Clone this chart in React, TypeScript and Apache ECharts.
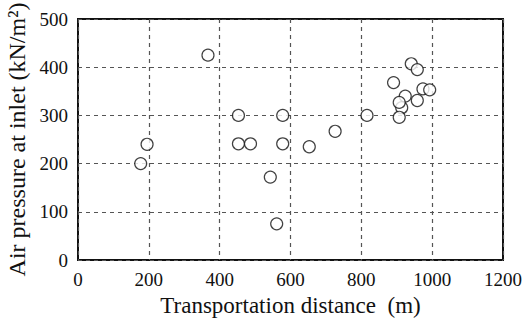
import React, { useEffect, useRef } from "react";
import * as echarts from "echarts";

const distance = [177, 195, 367, 453, 453, 487, 578, 578, 543, 561, 653, 726, 816, 891, 941, 958, 974, 993, 924, 914, 907, 907, 958];
const pressure = [200, 240, 425, 300, 241, 241, 300, 241, 172, 75, 235, 267, 300, 368, 407, 395, 355, 353, 340, 316, 327, 296, 331];
const xTicks = [0, 200, 400, 600, 800, 1000, 1200];
const yTicks = [0, 100, 200, 300, 400, 500];

export default function App() {
  const ref = useRef<HTMLDivElement>(null);
  useEffect(() => {
    if (!ref.current) return;
    const chart = echarts.init(ref.current, null, { renderer: "svg" });
    const font = "'Liberation Serif', 'DejaVu Serif', serif";
    chart.setOption({
      animation: false,
      backgroundColor: "#fff",
      grid: {
        left: 78,
        right: 26,
        top: 19,
        bottom: 62,
        outerBoundsMode: "none",
        containLabel: false,
        show: true,
        borderColor: "#111",
        borderWidth: 2,
        backgroundColor: "transparent",
      },
      xAxis: {
        type: "value",
        min: xTicks[0],
        max: xTicks[xTicks.length - 1],
        interval: 200,
        name: "Transportation distance  (m)",
        nameLocation: "middle",
        nameGap: 30,
        nameTextStyle: { fontFamily: font, fontSize: 23, color: "#111" },
        axisLine: { show: false },
        axisTick: { show: false },
        axisLabel: { fontFamily: font, fontSize: 19, color: "#111", margin: 10, formatter: (v: number) => String(v) },
        splitLine: { show: true, lineStyle: { color: "#555", type: [4, 4], width: 1.2 } },
      },
      yAxis: {
        type: "value",
        min: yTicks[0],
        max: yTicks[yTicks.length - 1],
        interval: 100,
        name: "Air pressure at inlet (kN/m\u00B2)",
        nameLocation: "middle",
        nameGap: 42,
        nameTextStyle: { fontFamily: font, fontSize: 24, color: "#111" },
        axisLine: { show: false },
        axisTick: { show: false },
        axisLabel: { fontFamily: font, fontSize: 19, color: "#111", margin: 10, formatter: (v: number) => String(v) },
        splitLine: { show: true, lineStyle: { color: "#555", type: [4, 4], width: 1.2 } },
      },
      series: [
        {
          type: "scatter",
          data: distance.map((d, i) => [d, pressure[i]]),
          symbol: "circle",
          symbolSize: 12,
          itemStyle: { color: "#fff", borderColor: "#111", borderWidth: 1.2 },
        },
      ],
    });
    return () => chart.dispose();
  }, []);
  return <div ref={ref} style={{ width: 529, height: 322, position: "absolute", left: 0, top: 0 }} />;
}
